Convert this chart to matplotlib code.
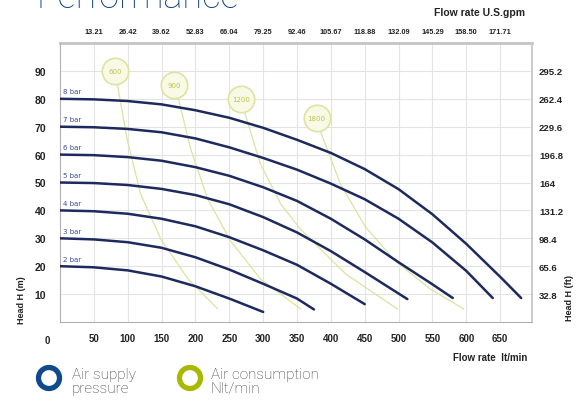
import matplotlib
matplotlib.use('Agg')
import matplotlib.pyplot as plt
from matplotlib.patches import Circle

# ---------------- data ----------------
flow_ticks = [50, 100, 150, 200, 250, 300, 350, 400, 450, 500, 550, 600, 650]
head_ticks = [10, 20, 30, 40, 50, 60, 70, 80, 90]
gpm_labels = ['13.21', '26.42', '39.62', '52.83', '66.04', '79.25', '92.46',
              '105.67', '118.88', '132.09', '145.29', '158.50', '171.71']
ft_labels = ['32.8', '65.6', '98.4', '131.2', '164', '196.8', '229.6', '262.4', '295.2']

pressure_labels = ['2 bar', '3 bar', '4 bar', '5 bar', '6 bar', '7 bar', '8 bar']
flow_2bar = [0, 50, 100, 150, 200, 250, 300]
head_2bar = [20, 19.6, 18.5, 16.3, 12.8, 8.4, 3.6]
flow_3bar = [0, 50, 100, 150, 200, 250, 300, 350, 375]
head_3bar = [30, 29.6, 28.6, 26.6, 23.2, 18.8, 13.7, 8.4, 4.5]
flow_4bar = [0, 50, 100, 150, 200, 250, 300, 350, 400, 450]
head_4bar = [40, 39.7, 38.8, 37.0, 34.3, 30.4, 25.7, 20.5, 13.7, 6.4]
flow_5bar = [0, 50, 100, 150, 200, 250, 300, 350, 400, 450, 500, 513]
head_5bar = [50, 49.8, 49.1, 47.7, 45.5, 42.2, 37.6, 32.1, 25.4, 17.9, 10.2, 8.2]
flow_6bar = [0, 50, 100, 150, 200, 250, 300, 350, 400, 450, 500, 550, 580]
head_6bar = [60, 59.8, 59.1, 57.8, 55.5, 52.4, 48.3, 43.4, 37.0, 29.6, 21.4, 13.5, 8.6]
flow_7bar = [0, 50, 100, 150, 200, 250, 300, 350, 400, 450, 500, 550, 600, 639]
head_7bar = [70, 69.8, 69.2, 68.0, 65.8, 62.6, 58.8, 54.6, 49.6, 44.0, 37.0, 28.5, 18.3, 8.6]
flow_8bar = [0, 50, 100, 150, 200, 250, 300, 350, 400, 450, 500, 550, 600, 650, 681]
head_8bar = [80, 79.8, 79.2, 78.0, 75.9, 73.2, 69.6, 65.3, 60.6, 54.8, 47.6, 38.6, 28.0, 16.2, 8.6]

air_labels = ['600', '900', '1200', '1800']
air_label_flow = [81, 169, 268, 379]
air_label_head = [90, 85, 80, 73]
flow_air600 = [85, 99, 119, 149, 189, 233]
head_air600 = [84.9, 65.6, 45.9, 29.7, 15.4, 4.7]
flow_air900 = [175, 193, 218, 252, 296, 355]
head_air900 = [79.9, 62.0, 44.1, 29.0, 15.4, 4.7]
flow_air1200 = [273, 296, 326, 355, 422, 498]
head_air1200 = [74.9, 56.6, 42.3, 33.3, 17.2, 4.7]
flow_air1800 = [385, 414, 451, 495, 547, 596]
head_air1800 = [68.1, 49.5, 34.1, 21.9, 11.8, 4.7]

# ---------------- styling ----------------
navy = '#1e2a5e'
label_blue = '#3a4c9c'
air_line = '#dce3a0'
air_edge = '#dde4a2'
air_face = '#f8fae6'
air_text = '#b9c552'
grid_c = '#e3e3e3'
tick_font = dict(family='Liberation Sans', weight='bold')

fig = plt.figure(figsize=(5.87, 4.02), dpi=100)
ax = fig.add_axes([60/587, 1 - 323/402, (532 - 60)/587, (323 - 44)/402])
ax.set_xlim(0, 697)
ax.set_ylim(0, 100)

for v in flow_ticks:
    ax.axvline(v, color=grid_c, lw=0.8, zorder=0)
for v in head_ticks:
    ax.axhline(v, color=grid_c, lw=0.8, zorder=0)

# air consumption lines
for fx, hy in [(flow_air600, head_air600), (flow_air900, head_air900),
               (flow_air1200, head_air1200), (flow_air1800, head_air1800)]:
    ax.plot(fx, hy, color=air_line, lw=0.9, zorder=1)

# pressure curves
curves = [(flow_2bar, head_2bar), (flow_3bar, head_3bar), (flow_4bar, head_4bar),
          (flow_5bar, head_5bar), (flow_6bar, head_6bar), (flow_7bar, head_7bar),
          (flow_8bar, head_8bar)]
for (fx, hy), lab in zip(curves, pressure_labels):
    ax.plot(fx, hy, color=navy, lw=1.8, solid_capstyle='round',
            solid_joinstyle='round', zorder=3)
    ax.text(4, hy[0] + 1.6, lab, color=label_blue, fontsize=5, va='bottom',
            ha='left', family='DejaVu Sans', zorder=4)

# air consumption labels
ax.plot(air_label_flow, air_label_head, ls='none', marker='o', markersize=19,
        markerfacecolor=air_face, markeredgecolor=air_edge, markeredgewidth=1.2, zorder=2)
for x, y, t in zip(air_label_flow, air_label_head, air_labels):
    ax.text(x, y, t, color=air_text, fontsize=5, ha='center', va='center', zorder=3,
            family='DejaVu Sans')

# axes ticks
ax.set_xticks(flow_ticks)
ax.set_xticklabels([str(v) for v in flow_ticks], fontsize=7, color='#222', **tick_font)
ax.set_yticks(head_ticks)
ax.set_yticklabels([str(v) for v in head_ticks], fontsize=7.5, color='#222', **tick_font)
ax.tick_params(axis='x', length=0, pad=8)
ax.tick_params(axis='y', length=0, pad=10)
ax.text(-18, -4.6, '0', fontsize=7, color='#222', ha='center',
        va='top', clip_on=False, **tick_font)

for s in ['left', 'bottom']:
    ax.spines[s].set_color('#b0b0b0')
    ax.spines[s].set_linewidth(0.8)
ax.spines['top'].set_visible(False)
ax.spines['right'].set_visible(False)

top = ax.secondary_xaxis('top', functions=(lambda x: x / 3.785, lambda g: g * 3.785))
top.set_xticks([float(g) for g in gpm_labels])
top.set_xticklabels(gpm_labels, fontsize=5.3, color='#222', **tick_font)
top.tick_params(length=0, pad=6)
top.spines['top'].set_color('#c4c4c4')
top.spines['top'].set_linewidth(2)

right = ax.secondary_yaxis('right', functions=(lambda m: m * 3.28, lambda f: f / 3.28))
right.set_yticks([float(f) for f in ft_labels])
right.set_yticklabels(ft_labels, fontsize=6.8, color='#222', **tick_font)
right.tick_params(length=0, pad=5)
right.spines['right'].set_color('#c8c8c8')
right.spines['right'].set_linewidth(1.3)

# axis titles
fig.text(21/587, 1 - 300/402, 'Head H (m)', rotation=90, fontsize=6.5, ha='center',
         va='center', color='#222', **tick_font)
fig.text(570/587, 1 - 298/402, 'Head H (ft)', rotation=90, fontsize=6.5, ha='center',
         va='center', color='#222', **tick_font)
fig.text(490/587, 1 - 358/402, 'Flow rate  lt/min', fontsize=7, ha='center',
         va='center', color='#222', **tick_font)
fig.text(479/587, 1 - 13/402, 'Flow rate U.S.gpm', fontsize=7.5, ha='center',
         va='center', color='#222', **tick_font)

# title (cut off at top, as in the reference)
fig.text(36/587, 1 - 8/402, 'Performance', fontsize=26, color='#0f3f7f',
         family='Roboto', weight='light', ha='left', va='baseline')

# legend
fig.add_artist(Circle((49/100, (402 - 379)/100), 0.105, transform=fig.dpi_scale_trans,
                      fill=False, edgecolor='#0e4a8c', linewidth=3.8))
fig.add_artist(Circle((190/100, (402 - 379)/100), 0.105, transform=fig.dpi_scale_trans,
                      fill=False, edgecolor='#a9b800', linewidth=3.8))
fig.text(72/587, 1 - 382/402, 'Air supply\npressure', fontsize=11, color='#3a3a3a',
         family='Roboto', weight='light', ha='left', va='center', linespacing=0.95)
fig.text(211/587, 1 - 382/402, 'Air consumption\nNlt/min', fontsize=11, color='#3a3a3a',
         family='Roboto', weight='light', ha='left', va='center', linespacing=0.95)

fig.savefig('out.png', dpi=100)
